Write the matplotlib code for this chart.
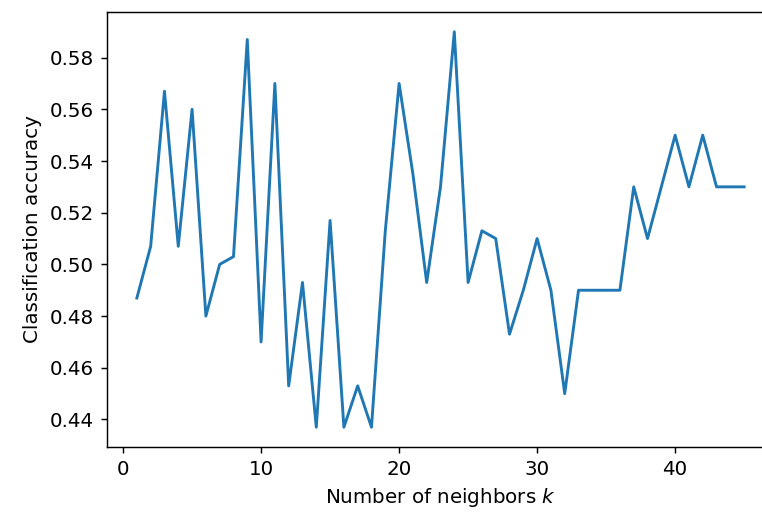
import matplotlib
matplotlib.use("Agg")
import matplotlib.pyplot as plt

k_values = list(range(1, 46))
accuracy = [0.487, 0.507, 0.567, 0.507, 0.560, 0.480, 0.500, 0.503, 0.587, 0.470,
            0.570, 0.453, 0.493, 0.437, 0.517, 0.437, 0.453, 0.437, 0.513, 0.570,
            0.535, 0.493, 0.530, 0.590, 0.493, 0.513, 0.510, 0.473, 0.490, 0.510,
            0.490, 0.450, 0.490, 0.490, 0.490, 0.490, 0.530, 0.510, 0.530, 0.550,
            0.530, 0.550, 0.530, 0.530, 0.530]

plt.rcParams['font.size'] = 11
dpi = 130
fig = plt.figure(figsize=(762 / dpi, 512 / dpi), dpi=dpi)
ax = fig.add_axes([106.5 / 762, 65 / 512, 668 / 762, 435 / 512])
ax.plot(k_values, accuracy, color="#1f77b4", linewidth=1.6)
ax.set_xlabel("Number of neighbors $k$")
ax.set_ylabel("Classification accuracy")
fig.savefig("out.png", dpi=dpi)
